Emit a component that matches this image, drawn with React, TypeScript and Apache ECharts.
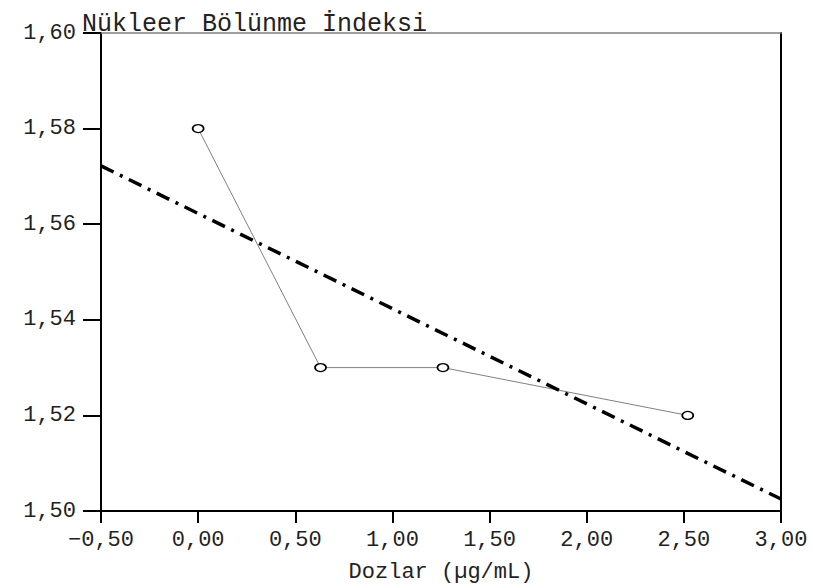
import React, { useEffect, useRef } from "react";
import * as echarts from "echarts";

const doses = [0, 0.63, 1.26, 2.52];
const indexValues = [1.58, 1.53, 1.53, 1.52];
const fitX = [-0.5, 3.0];
const fitY = [1.5722, 1.5025];
const titleText = "Nükleer Bölünme İndeksi";
const xName = "Dozlar (µg/mL)";

const FONT = "'Liberation Mono', 'Courier New', monospace";
const TXT = "#222";

const fmt = (v: number) => v.toFixed(2).replace(".", ",").replace("-", "\u2212");

export default function App() {
  const ref = useRef<HTMLDivElement>(null);
  useEffect(() => {
    if (!ref.current) return;
    const chart = echarts.init(ref.current, null, { renderer: "svg" });
    chart.setOption({
      animation: false,
      backgroundColor: "#fff",
      title: {
        text: titleText,
        left: 77,
        top: 7,
        textStyle: { fontFamily: FONT, fontSize: 25, fontWeight: "normal", color: TXT },
      },
      grid: { left: 101, right: 32, top: 33, bottom: 70 },
      xAxis: [
        {
          type: "value",
          min: -0.5,
          max: 3,
          interval: 0.5,
          position: "bottom",
          axisLine: { onZero: false, lineStyle: { color: "#000", width: 2 } },
          axisTick: { length: 12, lineStyle: { color: "#000", width: 2 } },
          axisLabel: { margin: 18, fontFamily: FONT, fontSize: 22, color: TXT, formatter: fmt },
          splitLine: { show: false },
          name: xName,
          nameLocation: "middle",
          nameGap: 50,
          nameTextStyle: { fontFamily: FONT, fontSize: 22, color: TXT },
        },
        {
          type: "value",
          min: -0.5,
          max: 3,
          position: "top",
          axisLine: { onZero: false, lineStyle: { color: "#808080", width: 1.5 } },
          axisTick: { show: false },
          axisLabel: { show: false },
          splitLine: { show: false },
        },
      ],
      yAxis: [
        {
          type: "value",
          min: 1.5,
          max: 1.6,
          interval: 0.02,
          position: "left",
          axisLine: { onZero: false, lineStyle: { color: "#000", width: 2 } },
          axisTick: { length: 18, lineStyle: { color: "#000", width: 2 } },
          axisLabel: { margin: 25, fontFamily: FONT, fontSize: 22, color: TXT, formatter: fmt },
          splitLine: { show: false },
        },
        {
          type: "value",
          min: 1.5,
          max: 1.6,
          position: "right",
          axisLine: { onZero: false, lineStyle: { color: "#000", width: 2 } },
          axisTick: { show: false },
          axisLabel: { show: false },
          splitLine: { show: false },
        },
      ],
      series: [
        {
          type: "line",
          xAxisIndex: 0,
          yAxisIndex: 0,
          data: doses.map((d, i) => [d, indexValues[i]]),
          lineStyle: { color: "#808080", width: 1 },
          symbol: "circle",
          symbolSize: [11, 8],
          itemStyle: { color: "#fff", borderColor: "#000", borderWidth: 1.5 },
          z: 2,
        },
        {
          type: "line",
          xAxisIndex: 0,
          yAxisIndex: 0,
          data: fitX.map((d, i) => [d, fitY[i]]),
          showSymbol: false,
          symbol: "none",
          lineStyle: { color: "#000", width: 3.5, type: [14, 7, 3, 7], cap: "butt" },
          z: 3,
        },
      ],
    });
    return () => chart.dispose();
  }, []);
  return (
    <div
      ref={ref}
      style={{ position: "fixed", left: 0, top: 0, width: 813, height: 588 }}
    />
  );
}
